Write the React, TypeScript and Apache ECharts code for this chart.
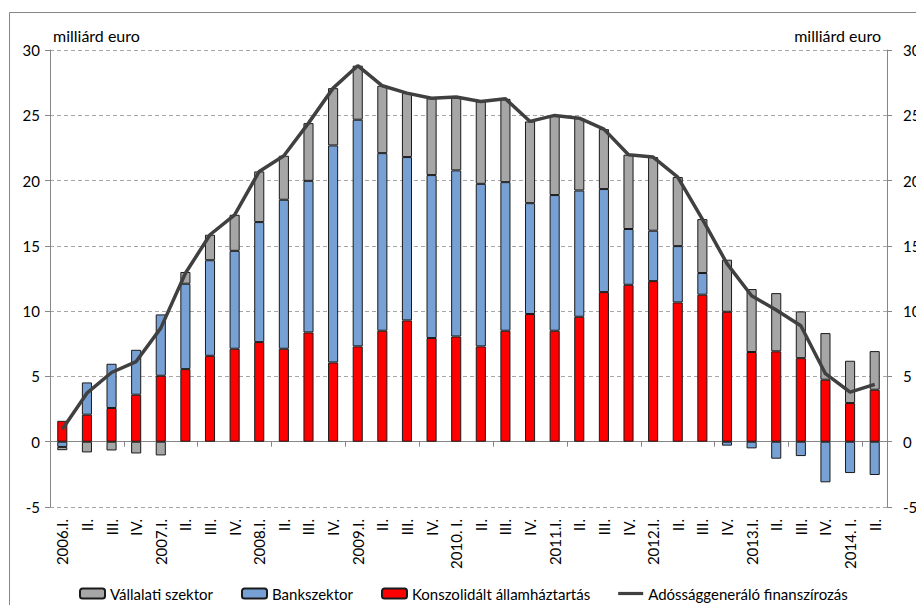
import React, { useEffect, useRef } from "react";
import * as echarts from "echarts";

const categories = [
  "2006.I.", "II.", "III.", "IV.",
  "2007.I.", "II.", "III.", "IV.",
  "2008.I.", "II.", "III.", "IV.",
  "2009.I.", "II.", "III.", "IV.",
  "2010. I.", "II.", "III.", "IV.",
  "2011.I.", "II.", "III.", "IV.",
  "2012.I.", "II.", "III.", "IV.",
  "2013.I.", "II.", "III.", "IV.",
  "2014. I.", "II.",
];

const konszolidalt = [
  1.6, 2.07, 2.58, 3.6, 5.05, 5.56, 6.58, 7.12, 7.63, 7.12, 8.37, 6.07,
  7.3, 8.5, 9.29, 7.94, 8.06, 7.3, 8.5, 9.78, 8.5, 9.57, 11.46, 12.02,
  12.3, 10.67, 11.26, 9.95, 6.87, 6.92, 6.4, 4.75, 2.96, 3.98,
];

const bankszektor = [
  -0.4, 2.47, 3.39, 3.44, 4.7, 6.54, 7.32, 7.5, 9.19, 11.41, 11.61, 16.62,
  17.36, 13.6, 12.51, 12.48, 12.72, 12.45, 11.38, 8.49, 10.39, 9.67, 7.89, 4.27,
  3.86, 4.31, 1.66, -0.3, -0.51, -1.3, -1.1, -3.11, -2.4, -2.55,
];

const vallalati = [
  -0.25, -0.82, -0.67, -0.9, -1.05, 0.9, 1.95, 2.76, 3.88, 3.37, 4.42, 4.39,
  4.14, 5.16, 4.9, 5.88, 5.62, 6.31, 6.38, 6.26, 6.1, 5.54, 4.59, 5.69,
  5.64, 5.29, 4.13, 3.99, 4.82, 4.46, 3.58, 3.57, 3.24, 2.96,
];

const adossag = [
  0.95, 3.72, 5.3, 6.14, 8.7, 12.9, 15.85, 17.38, 20.7, 21.9, 24.4, 27.08,
  28.8, 27.26, 26.7, 26.3, 26.4, 26.06, 26.26, 24.53, 24.99, 24.78, 23.94, 21.98,
  21.8, 20.27, 17.05, 13.64, 11.18, 10.08, 8.88, 5.21, 3.8, 4.39,
];

const FONT = "Lato, 'Noto Sans', sans-serif";
const LINE_ICON = "path://M0,0 L0,0 M0,3.4 L25,3.4 L25,6.6 L0,6.6 Z M25,10 L25,10";

export default function App() {
  const ref = useRef<HTMLDivElement>(null);
  useEffect(() => {
    if (!ref.current) return;
    const chart = echarts.init(ref.current, undefined, { renderer: "svg" });
    const axisColor = "#868686";
    const barBorder = { borderColor: "#1a1a1a", borderWidth: 1 };
    chart.setOption({
      animation: false,
      textStyle: { fontFamily: FONT },
      grid: { left: 50, right: 29, top: 50, bottom: 98, containLabel: false, outerBoundsMode: "none" },
      legend: {
        data: [
          { name: "Vállalati szektor" },
          { name: "Bankszektor" },
          { name: "Konszolidált államháztartás" },
          { name: "Adóssággeneráló finanszírozás", icon: LINE_ICON, itemStyle: { color: "#404040", borderWidth: 0 } },
        ],
        left: 74,
        top: 581,
        itemWidth: 25,
        itemHeight: 10,
        itemGap: 28,
        textStyle: { fontSize: 15, color: "#000", fontFamily: FONT },
      },
      xAxis: [
        {
          type: "category",
          data: categories,
          position: "bottom",
          axisLine: { show: false, onZero: false },
          axisTick: { show: false },
          axisLabel: {
            rotate: 90,
            margin: 12,
            fontSize: 15,
            color: "#000",
            fontFamily: FONT,
            interval: 0,
          },
        },
        {
          type: "category",
          data: categories,
          position: "bottom",
          axisLine: { show: true, onZero: true, lineStyle: { color: axisColor, width: 1 } },
          axisTick: { show: true, length: 5, lineStyle: { color: axisColor } },
          axisLabel: { show: false },
        },
      ],
      yAxis: [
        {
          type: "value",
          min: -5,
          max: 30,
          interval: 5,
          position: "left",
          axisLine: { show: true, onZero: false, lineStyle: { color: axisColor } },
          axisTick: { show: true, length: 5, lineStyle: { color: axisColor } },
          axisLabel: { margin: 10, fontSize: 15, color: "#000", fontFamily: FONT },
          splitLine: { show: true, lineStyle: { color: "#a6a6a6", type: [4, 3], width: 1 } },
        },
        {
          type: "value",
          min: -5,
          max: 30,
          interval: 5,
          position: "right",
          axisLine: { show: true, onZero: false, lineStyle: { color: axisColor } },
          axisTick: { show: true, length: 5, lineStyle: { color: axisColor } },
          axisLabel: { margin: 16, fontSize: 15, color: "#000", fontFamily: FONT },
          splitLine: { show: false },
        },
      ],
      series: [
        {
          name: "Konszolidált államháztartás",
          type: "bar",
          stack: "total",
          barWidth: "41%",
          data: konszolidalt,
          itemStyle: { color: "#ff0000", ...barBorder },
        },
        {
          name: "Bankszektor",
          type: "bar",
          stack: "total",
          barWidth: "41%",
          data: bankszektor,
          itemStyle: { color: "#77a1d5", ...barBorder },
        },
        {
          name: "Vállalati szektor",
          type: "bar",
          stack: "total",
          barWidth: "41%",
          data: vallalati,
          itemStyle: { color: "#a6a6a6", ...barBorder },
        },
        {
          name: "Adóssággeneráló finanszírozás",
          type: "line",
          data: adossag,
          symbol: "none",
          z: 5,
          lineStyle: { color: "#404040", width: 3.5 },
          itemStyle: { color: "#404040" },
        },
      ],
      graphic: [
        {
          type: "polyline",
          shape: { points: [[9.5, 605], [9.5, 12.5], [916, 12.5]] },
          style: { stroke: "#868686", fill: "none", lineWidth: 1 },
          silent: true,
        },
        {
          type: "text",
          x: 53,
          y: 35,
          style: {
            text: "milliárd euro",
            fontSize: 16,
            fontFamily: FONT,
            fill: "#000",
            verticalAlign: "middle",
          },
        },
        {
          type: "text",
          x: 881,
          y: 35,
          style: {
            text: "milliárd euro",
            fontSize: 16,
            fontFamily: FONT,
            fill: "#000",
            align: "right",
            verticalAlign: "middle",
          },
        },
      ],
    });
    return () => chart.dispose();
  }, []);
  return (
    <div
      ref={ref}
      style={{ position: "fixed", left: 0, top: 0, width: 916, height: 605, background: "#fff" }}
    />
  );
}
